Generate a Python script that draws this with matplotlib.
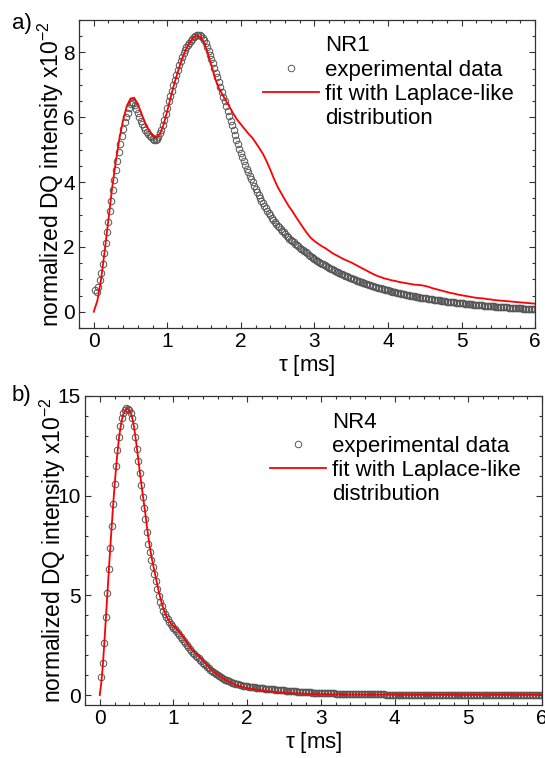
import numpy as np
import matplotlib
matplotlib.use("Agg")
import matplotlib.pyplot as plt
from matplotlib.ticker import MultipleLocator
from matplotlib.lines import Line2D

plt.rcParams['font.family'] = ['Liberation Sans', 'DejaVu Sans']

# tau grids in ms
tau_exp = np.round(np.arange(1, 301) * 0.02, 2)              # 0.02 .. 6.00
tau_fit_nr1 = np.round(np.arange(0, 121) * 0.05, 2)          # 0 .. 6.00
tau_fit_nr4_early = np.round(np.arange(0, 51) * 0.02, 2)     # 0 .. 1.00
tau_fit_nr4_late = np.round(1.0 + np.arange(1, 101) * 0.05, 2)  # 1.05 .. 6.00

# NR1, normalized DQ intensity (x10^-2)
nr1_exp = [
    0.66, 0.60, 0.75, 0.98, 1.20, 1.48, 1.80, 2.12, 2.45, 2.78,
    3.10, 3.42, 3.75, 4.07, 4.37, 4.66, 4.93, 5.18, 5.42, 5.64,
    5.84, 6.00, 6.13, 6.28, 6.40, 6.47, 6.45, 6.38, 6.26, 6.12,
    6.00, 5.88, 5.78, 5.70, 5.62, 5.55, 5.49, 5.43, 5.38, 5.34,
    5.31, 5.30, 5.33, 5.40, 5.50, 5.62, 5.76, 5.92, 6.10, 6.30,
    6.50, 6.66, 6.82, 6.98, 7.14, 7.30, 7.45, 7.60, 7.74, 7.87,
    7.98, 8.08, 8.16, 8.23, 8.30, 8.36, 8.41, 8.47, 8.52, 8.55,
    8.55, 8.53, 8.50, 8.45, 8.38, 8.28, 8.17, 8.04, 7.92, 7.80,
    7.67, 7.53, 7.38, 7.23, 7.08, 6.93, 6.78, 6.63, 6.49, 6.35,
    6.20, 6.05, 5.90, 5.75, 5.60, 5.45, 5.30, 5.16, 5.02, 4.89,
    4.76, 4.64, 4.52, 4.41, 4.30, 4.19, 4.09, 3.99, 3.89, 3.79,
    3.70, 3.61, 3.52, 3.43, 3.35, 3.27, 3.19, 3.11, 3.04, 2.97,
    2.90, 2.84, 2.78, 2.72, 2.66, 2.60, 2.55, 2.50, 2.45, 2.40,
    2.35, 2.30, 2.26, 2.22, 2.18, 2.14, 2.10, 2.06, 2.02, 1.98,
    1.94, 1.90, 1.87, 1.83, 1.80, 1.76, 1.73, 1.69, 1.66, 1.63,
    1.60, 1.57, 1.54, 1.51, 1.48, 1.46, 1.43, 1.40, 1.38, 1.35,
    1.33, 1.31, 1.28, 1.26, 1.24, 1.22, 1.19, 1.17, 1.15, 1.13,
    1.11, 1.09, 1.07, 1.05, 1.03, 1.01, 1.00, 0.98, 0.96, 0.94,
    0.93, 0.91, 0.89, 0.88, 0.86, 0.85, 0.83, 0.82, 0.80, 0.79,
    0.77, 0.76, 0.74, 0.73, 0.72, 0.70, 0.69, 0.68, 0.67, 0.66,
    0.64, 0.63, 0.62, 0.61, 0.60, 0.59, 0.58, 0.57, 0.56, 0.55,
    0.54, 0.53, 0.52, 0.51, 0.50, 0.49, 0.48, 0.48, 0.47, 0.46,
    0.45, 0.44, 0.44, 0.43, 0.42, 0.41, 0.40, 0.40, 0.39, 0.38,
    0.37, 0.37, 0.36, 0.35, 0.35, 0.34, 0.33, 0.33, 0.32, 0.31,
    0.31, 0.30, 0.30, 0.29, 0.29, 0.28, 0.28, 0.27, 0.27, 0.26,
    0.26, 0.25, 0.25, 0.24, 0.24, 0.23, 0.23, 0.22, 0.22, 0.21,
    0.21, 0.21, 0.20, 0.20, 0.19, 0.19, 0.19, 0.18, 0.18, 0.17,
    0.17, 0.17, 0.16, 0.16, 0.16, 0.15, 0.15, 0.15, 0.14, 0.14,
    0.14, 0.13, 0.13, 0.13, 0.12, 0.12, 0.12, 0.11, 0.11, 0.11,
    0.11, 0.10, 0.10, 0.10, 0.10, 0.09, 0.09, 0.09, 0.08, 0.08,
]
nr1_fit = [
    0.00, 0.35, 1.00, 1.90, 2.85, 3.82, 4.64, 5.35, 5.92, 6.35,
    6.58, 6.60, 6.40, 6.10, 5.82, 5.60, 5.44, 5.38, 5.48, 5.78,
    6.20, 6.65, 7.08, 7.45, 7.80, 8.08, 8.29, 8.44, 8.52, 8.48,
    8.30, 7.98, 7.60, 7.20, 6.90, 6.70, 6.50, 6.30, 6.10, 5.92,
    5.78, 5.64, 5.50, 5.38, 5.22, 5.05, 4.87, 4.64, 4.38, 4.10,
    3.85, 3.65, 3.45, 3.26, 3.10, 2.92, 2.75, 2.58, 2.42, 2.28,
    2.18, 2.10, 2.02, 1.96, 1.88, 1.80, 1.74, 1.68, 1.62, 1.57,
    1.52, 1.46, 1.40, 1.34, 1.28, 1.22, 1.16, 1.11, 1.07, 1.03,
    1.00, 0.97, 0.95, 0.92, 0.90, 0.88, 0.86, 0.84, 0.83, 0.82,
    0.80, 0.77, 0.73, 0.70, 0.67, 0.64, 0.61, 0.58, 0.56, 0.53,
    0.51, 0.49, 0.47, 0.45, 0.43, 0.42, 0.41, 0.39, 0.38, 0.36,
    0.35, 0.34, 0.33, 0.32, 0.31, 0.30, 0.29, 0.28, 0.27, 0.26,
    0.25,
]

# NR4
nr4_exp = [
    0.90, 1.60, 2.60, 3.90, 5.10, 6.30, 7.40, 8.50, 9.60, 10.60,
    11.50, 12.30, 12.95, 13.50, 13.90, 14.15, 14.30, 14.38, 14.37, 14.30,
    14.15, 13.90, 13.50, 12.95, 12.35, 11.75, 11.15, 10.55, 9.95, 9.40,
    8.85, 8.20, 7.60, 7.15, 6.75, 6.40, 6.05, 5.70, 5.32, 4.97,
    4.68, 4.45, 4.22, 4.08, 3.93, 3.80, 3.68, 3.56, 3.46, 3.37,
    3.29, 3.20, 3.10, 3.00, 2.90, 2.80, 2.70, 2.60, 2.50, 2.40,
    2.30, 2.21, 2.13, 2.05, 1.98, 1.91, 1.84, 1.77, 1.70, 1.63,
    1.56, 1.49, 1.42, 1.35, 1.28, 1.22, 1.16, 1.10, 1.04, 0.99,
    0.94, 0.89, 0.85, 0.81, 0.77, 0.74, 0.71, 0.68, 0.65, 0.62,
    0.60, 0.57, 0.55, 0.53, 0.51, 0.49, 0.47, 0.46, 0.44, 0.43,
    0.42, 0.41, 0.40, 0.39, 0.38, 0.37, 0.36, 0.36, 0.35, 0.34,
    0.33, 0.32, 0.31, 0.31, 0.30, 0.29, 0.28, 0.28, 0.27, 0.26,
    0.25, 0.25, 0.24, 0.23, 0.23, 0.22, 0.21, 0.21, 0.20, 0.20,
    0.19, 0.18, 0.18, 0.17, 0.17, 0.16, 0.16, 0.15, 0.15, 0.14,
    0.14, 0.13, 0.13, 0.12, 0.12, 0.12, 0.11, 0.11, 0.10, 0.10,
    0.10, 0.09, 0.09, 0.09, 0.09, 0.08, 0.08, 0.08, 0.08, 0.07,
    0.07, 0.07, 0.07, 0.06, 0.06, 0.06, 0.06, 0.06, 0.05, 0.05,
    0.05, 0.05, 0.05, 0.05, 0.04, 0.04, 0.04, 0.04, 0.04, 0.04,
    0.04, 0.04, 0.03, 0.03, 0.03, 0.03, 0.03, 0.03, 0.03, 0.03,
    0.03, 0.03, 0.03, 0.02, 0.02, 0.02, 0.02, 0.02, 0.02, 0.02,
    0.02, 0.02, 0.02, 0.02, 0.02, 0.02, 0.02, 0.02, 0.02, 0.02,
    0.02, 0.02, 0.02, 0.02, 0.02, 0.01, 0.01, 0.01, 0.01, 0.01,
    0.01, 0.01, 0.01, 0.01, 0.01, 0.01, 0.01, 0.01, 0.01, 0.01,
    0.01, 0.01, 0.01, 0.01, 0.01, 0.01, 0.01, 0.01, 0.01, 0.01,
    0.01, 0.01, 0.01, 0.01, 0.01, 0.01, 0.01, 0.01, 0.01, 0.01,
    0.00, 0.00, 0.00, 0.00, 0.00, 0.00, 0.00, 0.00, 0.00, 0.00,
    0.00, 0.00, 0.00, 0.00, 0.00, 0.00, 0.00, 0.00, 0.00, 0.00,
    0.00, 0.00, 0.00, 0.00, 0.00, 0.00, 0.00, 0.00, 0.00, 0.00,
    0.00, 0.00, 0.00, 0.00, 0.00, 0.00, 0.00, 0.00, 0.00, 0.00,
    0.00, 0.00, 0.00, 0.00, 0.00, 0.00, 0.00, 0.00, 0.00, 0.00,
]
nr4_fit_early = [
    0.00, 0.60, 1.40, 2.50, 3.70, 4.90, 6.10, 7.25, 8.35, 9.45,
    10.45, 11.35, 12.15, 12.85, 13.40, 13.80, 14.10, 14.25, 14.33, 14.35,
    14.30, 14.15, 13.90, 13.55, 13.05, 12.50, 11.90, 11.30, 10.70, 10.15,
    9.60, 9.05, 8.45, 7.90, 7.40, 6.98, 6.60, 6.25, 5.90, 5.55,
    5.20, 4.90, 4.62, 4.38, 4.17, 3.98, 3.84, 3.72, 3.62, 3.52,
    3.44,
]
nr4_fit_late = [
    3.28, 3.10, 2.82, 2.52, 2.27, 2.08, 1.92, 1.73, 1.52, 1.32,
    1.16, 1.02, 0.90, 0.78, 0.67, 0.58, 0.50, 0.44, 0.39, 0.35,
    0.32, 0.29, 0.26, 0.23, 0.21, 0.19, 0.17, 0.15, 0.13, 0.12,
    0.11, 0.10, 0.09, 0.08, 0.07, 0.06, 0.05, 0.05, 0.04, 0.04,
    0.04, 0.03, 0.03, 0.03, 0.03, 0.03, 0.02, 0.02, 0.02, 0.02,
    0.02, 0.02, 0.02, 0.02, 0.02, 0.02, 0.02, 0.02, 0.02, 0.02,
    0.01, 0.01, 0.01, 0.01, 0.01, 0.01, 0.01, 0.01, 0.01, 0.01,
    0.01, 0.01, 0.01, 0.01, 0.01, 0.01, 0.01, 0.01, 0.01, 0.01,
    0.01, 0.01, 0.01, 0.01, 0.01, 0.01, 0.01, 0.01, 0.01, 0.01,
    0.01, 0.01, 0.01, 0.01, 0.01, 0.01, 0.01, 0.01, 0.01, 0.01,
]

panels = [
    dict(tag="a)", name="NR1", exp=np.array(nr1_exp),
         tau_fit=tau_fit_nr1, fit=np.array(nr1_fit),
         ylim=(-0.5, 9.0), ymajor=2, yminor=0.5,
         rect=[0.145, 0.5673, 0.837, 0.4063], leg=(0.4035, 0.95),
         label_x=51, tag_y=24),
    dict(tag="b)", name="NR4", exp=np.array(nr4_exp),
         tau_fit=np.concatenate([tau_fit_nr4_early, tau_fit_nr4_late]),
         fit=np.array(nr4_fit_early + nr4_fit_late),
         ylim=(-0.5, 15.0), ymajor=5, yminor=1,
         rect=[0.156, 0.0699, 0.8385, 0.4077], leg=(0.405, 0.948),
         label_x=53, tag_y=395),
]

edge = "#333333"
gray = "#555555"
W, H = 545, 758
fig = plt.figure(figsize=(W / 100, H / 100), dpi=100)

for p in panels:
    ax = fig.add_axes(p["rect"])
    ax.plot(tau_exp, p["exp"], "o", ms=4.7, mfc="none", mec=gray,
            mew=0.7, zorder=2)
    ax.plot(p["tau_fit"], p["fit"], color="red", lw=1.3, zorder=3)

    ax.set_xlim(-0.2, 6.0)
    ax.set_ylim(*p["ylim"])
    ax.xaxis.set_major_locator(MultipleLocator(1))
    ax.xaxis.set_minor_locator(MultipleLocator(0.2))
    ax.yaxis.set_major_locator(MultipleLocator(p["ymajor"]))
    ax.yaxis.set_minor_locator(MultipleLocator(p["yminor"]))
    ax.tick_params(which="both", direction="in", top=True, right=True,
                   color=edge, width=0.8)
    ax.tick_params(which="major", length=4.5, labelsize=15, pad=3)
    ax.tick_params(which="minor", length=2.5)
    for s in ax.spines.values():
        s.set_color(edge)
        s.set_linewidth(0.9)

    ax.set_xlabel(r"$\mathregular{\tau}$ [ms]", fontsize=16, labelpad=1)
    ax.set_ylabel(r"normalized DQ intensity x10$^{\mathregular{-2}}$",
                  fontsize=16.5)
    ax.yaxis.label.set_verticalalignment("center")
    x0 = (p["label_x"] - p["rect"][0] * W) / (p["rect"][2] * W)
    ax.yaxis.set_label_coords(x0, 0.5)

    handles = [
        Line2D([], [], linestyle="none"),
        Line2D([], [], linestyle="none", marker="o", ms=4.7, mfc="none",
               mec=gray, mew=0.7),
        Line2D([], [], color="red", lw=1.3),
        Line2D([], [], linestyle="none"),
    ]
    labels = [p["name"], "experimental data", "fit with Laplace-like",
              "distribution"]
    ax.legend(handles, labels, loc="upper left", bbox_to_anchor=p["leg"],
              frameon=False, fontsize=16, handlelength=2.5,
              handletextpad=0.3, labelspacing=0.14, borderpad=0,
              borderaxespad=0)

    fig.text(12 / W, 1 - p["tag_y"] / H, p["tag"], fontsize=16,
             ha="left", va="center")

fig.savefig("out.png", dpi=100)
